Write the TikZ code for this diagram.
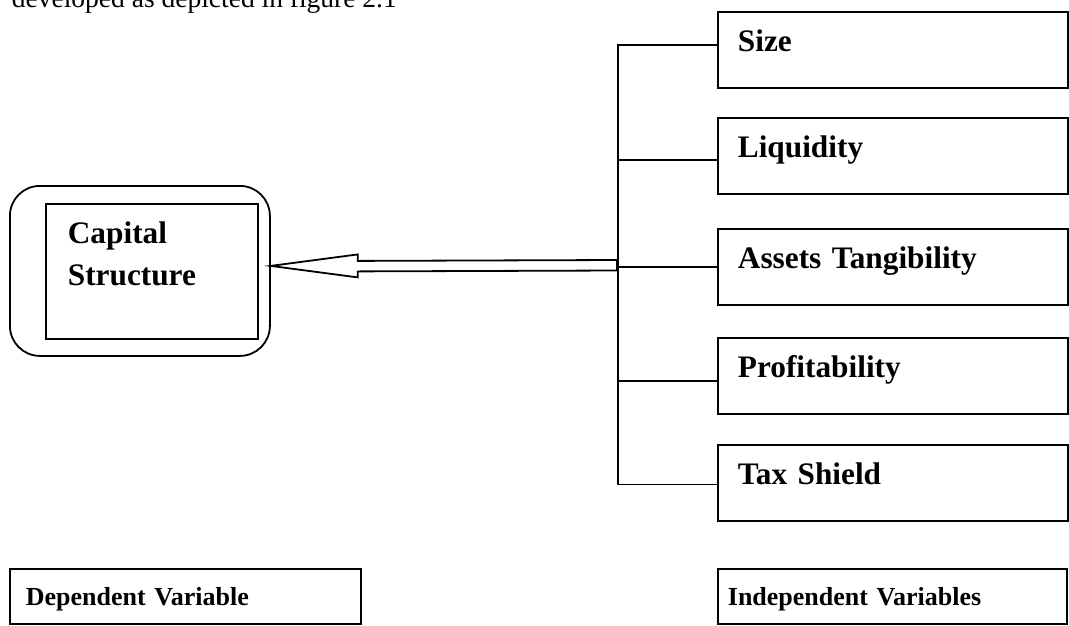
\documentclass[tikz,border=0pt]{standalone}
\usepackage{fontspec}
\setmainfont{Liberation Serif}
\usetikzlibrary{calc}
\begin{document}
\begin{tikzpicture}[x=1pt,y=-1pt,line width=1.8pt,
  varbox/.style={draw, anchor=north west, align=left, inner ysep=0pt,
    inner xsep=20pt, text width=#1, text height=40pt, text depth=36pt,
    font=\bfseries\fontsize{31.3}{42}\selectfont},
  legendbox/.style={draw, anchor=north west, align=left, inner ysep=0pt,
    text height=37pt, text depth=18pt,
    font=\bfseries\fontsize{26}{30}\selectfont}]
\useasboundingbox (0,0) rectangle (1069,625);
\clip (0,0) rectangle (1069,625);
% cut-off caption line at top
\node[anchor=base west, inner sep=0pt, font=\fontsize{27.5}{32}\selectfont] (caption) at (11,7) {developed as depicted in figure 2.1};
% dependent variable
\node[draw, rounded corners=30pt, anchor=north west, inner sep=0pt,
  minimum width=260pt, minimum height=170pt] (capouter) at (9,185) {};
\node[draw, anchor=north west, align=left, inner ysep=0pt, inner xsep=22pt,
  text width=168pt, text height=40pt, text depth=95pt,
  font=\bfseries\fontsize{31.3}{42}\selectfont] (capital) at (45,203) {Capital\\Structure};
% independent variables
\node[varbox=310pt] (size) at (717,11) {Size};
\node[varbox=310pt] (liq) at (717,117) {Liquidity};
\node[varbox=310pt] (asset) at (717,228) {Assets Tangibility};
\node[varbox=310pt] (profit) at (717,337) {Profitability};
\node[varbox=310pt] (tax) at (717,444) {Tax Shield};
% bus connectors
\coordinate (hub) at (618,265);
\draw ([yshift=5pt]size.west) -| (hub) |- ([yshift=-1.5pt]tax.west);
\draw ([yshift=-4pt]liq.west) -- ++(-99,0);
\draw (asset.west) -- ++(-99,0);
\draw ([yshift=-5pt]profit.west) -- ++(-99,0);
% hollow arrow
\coordinate (tip) at ([yshift=5pt]capouter.east);
\draw[line join=miter] (tip) -- ($(tip)+(87,-11.5)$) -- ($(tip)+(87,-5)$) -- ($(hub)+(-1,-5)$)
  -- ($(hub)+(-1,5.5)$) -- ($(tip)+(87,5.5)$) -- ($(tip)+(87,11.5)$) -- cycle;
% legend
\node[legendbox, inner xsep=16pt, text width=319pt] (dep) at (9,568) {Dependent Variable};
\node[legendbox, inner xsep=10pt, text width=329pt] (indep) at (717,568) {Independent Variables};
\end{tikzpicture}
\end{document}
